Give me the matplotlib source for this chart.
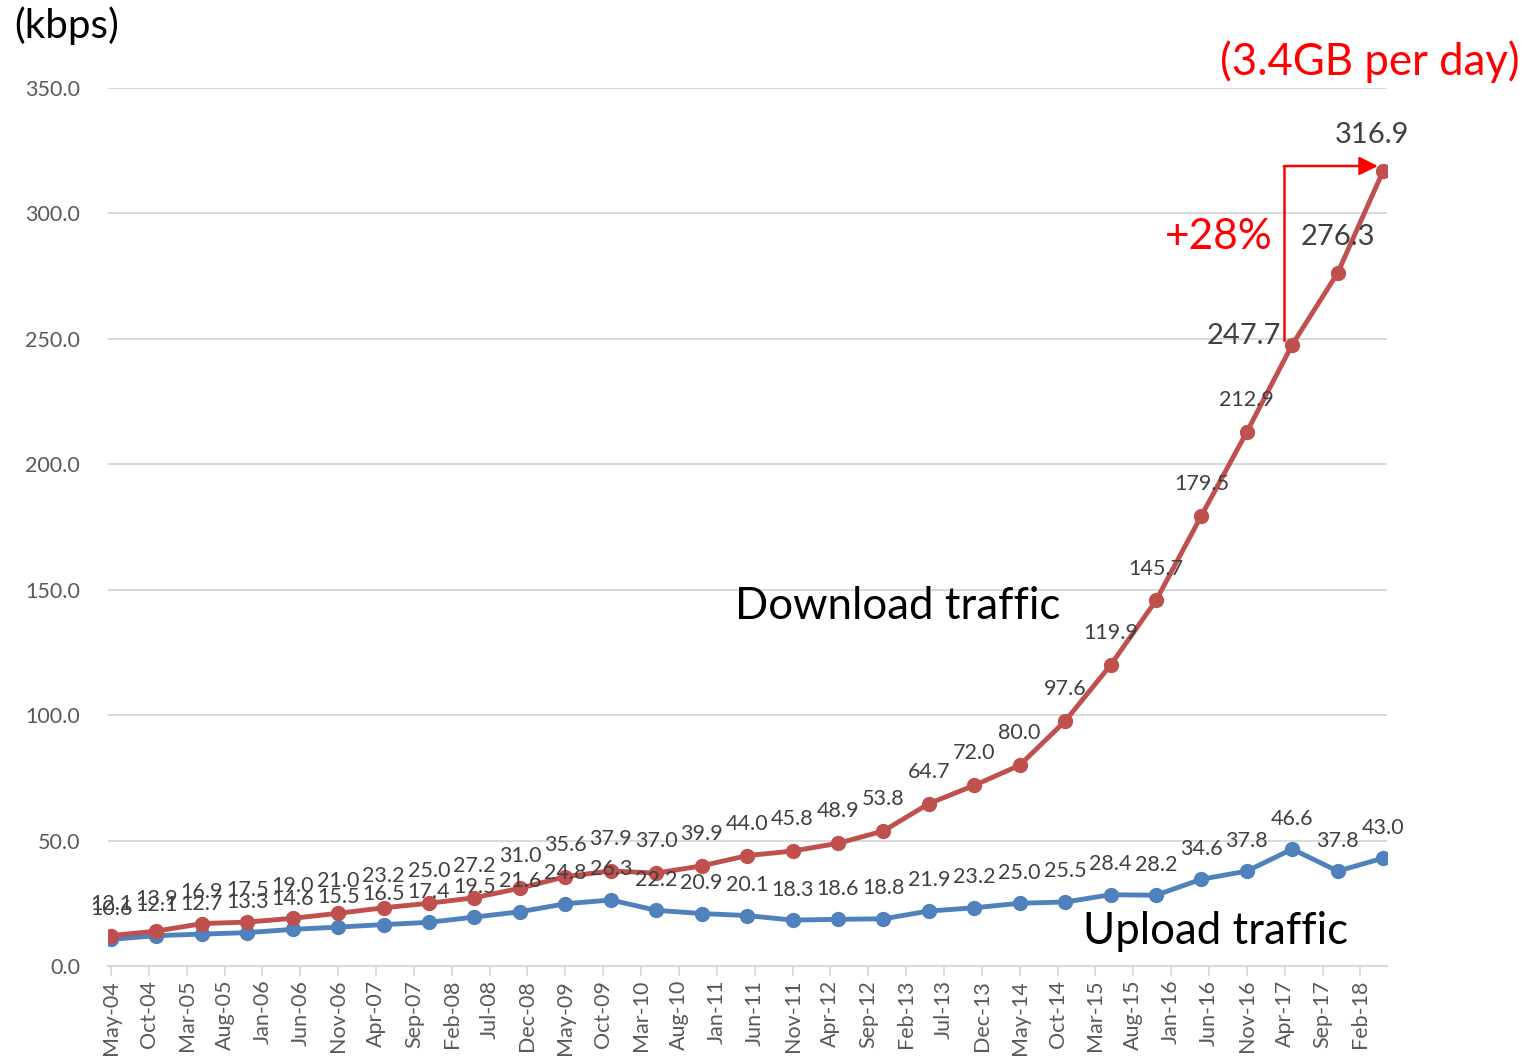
import matplotlib
matplotlib.use('Agg')
import matplotlib.pyplot as plt
from matplotlib.ticker import FormatStrFormatter

plt.rcParams['font.family'] = ['Lato', 'DejaVu Sans']

MONTHS = ['Jan', 'Feb', 'Mar', 'Apr', 'May', 'Jun', 'Jul', 'Aug', 'Sep', 'Oct', 'Nov', 'Dec']

periods = ['May-04', 'Nov-04', 'May-05', 'Nov-05', 'May-06', 'Nov-06', 'May-07', 'Nov-07',
           'May-08', 'Nov-08', 'May-09', 'Nov-09', 'May-10', 'Nov-10', 'May-11', 'Nov-11',
           'May-12', 'Nov-12', 'May-13', 'Nov-13', 'May-14', 'Nov-14', 'May-15', 'Nov-15',
           'May-16', 'Nov-16', 'May-17', 'Nov-17', 'May-18']
download = [12.1, 13.9, 16.9, 17.5, 19.0, 21.0, 23.2, 25.0, 27.2, 31.0, 35.6, 37.9, 37.0, 39.9,
            44.0, 45.8, 48.9, 53.8, 64.7, 72.0, 80.0, 97.6, 119.9, 145.7, 179.5, 212.9, 247.7,
            276.3, 316.9]
upload = [10.6, 12.1, 12.7, 13.3, 14.6, 15.5, 16.5, 17.4, 19.5, 21.6, 24.8, 26.3, 22.2, 20.9,
          20.1, 18.3, 18.6, 18.8, 21.9, 23.2, 25.0, 25.5, 28.4, 28.2, 34.6, 37.8, 46.6, 37.8, 43.0]
tick_labels = ['May-04', 'Oct-04', 'Mar-05', 'Aug-05', 'Jan-06', 'Jun-06', 'Nov-06', 'Apr-07',
               'Sep-07', 'Feb-08', 'Jul-08', 'Dec-08', 'May-09', 'Oct-09', 'Mar-10', 'Aug-10',
               'Jan-11', 'Jun-11', 'Nov-11', 'Apr-12', 'Sep-12', 'Feb-13', 'Jul-13', 'Dec-13',
               'May-14', 'Oct-14', 'Mar-15', 'Aug-15', 'Jan-16', 'Jun-16', 'Nov-16', 'Apr-17',
               'Sep-17', 'Feb-18']
y_ticks = [0, 50, 100, 150, 200, 250, 300, 350]


def month_index(lbl):
    mon, yr = lbl.split('-')
    return (int(yr) - 4) * 12 + MONTHS.index(mon) - 4


x = [month_index(p) for p in periods]
xt = [month_index(t) for t in tick_labels]

RED = '#C0504D'
BLUE = '#4F81BD'
LBL = '#404040'
GRID = '#D9D9D9'
LFS = 15.5   # data label font size
BFS = 21     # big data label font size

fig = plt.figure(figsize=(15.32, 10.6), dpi=100)
ax = fig.add_axes([0.0705, 0.0887, 0.8348, 0.8283])

ax.plot(x, upload, color=BLUE, lw=3.5, marker='o', markersize=10, zorder=3,
        solid_capstyle='round')
ax.plot(x, download, color=RED, lw=3.5, marker='o', markersize=10, zorder=4,
        solid_capstyle='round')

ax.set_xlim(-0.4, 168.5)
ax.set_ylim(0, 350)
ax.set_yticks(y_ticks)
ax.yaxis.set_major_formatter(FormatStrFormatter('%.1f'))
ax.set_xticks(xt)
ax.set_xticklabels(tick_labels, rotation=90)

for s in ['top', 'right', 'left']:
    ax.spines[s].set_visible(False)
ax.spines['bottom'].set_color(GRID)
ax.spines['bottom'].set_linewidth(1.5)
ax.grid(axis='y', color=GRID, lw=1.4)
ax.set_axisbelow(True)
ax.tick_params(axis='x', length=7, width=1.3, color=GRID, labelcolor='#595959',
               labelsize=15.5, pad=3)
ax.tick_params(axis='y', length=0, labelcolor='#595959', labelsize=15.5, pad=20)

# data labels
for i, (xi, v) in enumerate(zip(x, upload)):
    ax.annotate(f'{v:.1f}', (xi, v), xytext=(0, 22), textcoords='offset points',
                ha='center', va='center', fontsize=LFS, color=LBL, zorder=6)

n = len(download)
for i, (xi, v) in enumerate(zip(x, download)):
    if i == n - 3:
        ax.annotate(f'{v:.1f}', (xi, v), xytext=(-8, 6), textcoords='offset points',
                    ha='right', va='center', fontsize=BFS, color=LBL, zorder=6)
    elif i == n - 2:
        ax.annotate(f'{v:.1f}', (xi, v), xytext=(0, 26), textcoords='offset points',
                    ha='center', va='center', fontsize=BFS, color=LBL, zorder=6)
    elif i == n - 1:
        ax.annotate(f'{v:.1f}', (xi, v), xytext=(-8, 26), textcoords='offset points',
                    ha='center', va='center', fontsize=BFS, color=LBL, zorder=6)
    else:
        ax.annotate(f'{v:.1f}', (xi, v), xytext=(0, 23), textcoords='offset points',
                    ha='center', va='center', fontsize=LFS, color=LBL, zorder=6)

# growth arrow
ax.plot([154.9, 154.9], [249.5, 318.9], color='#FF0000', lw=1.8, zorder=5)
ax.annotate('', xy=(167.3, 318.9), xytext=(154.9, 318.9),
            arrowprops=dict(arrowstyle='-|>', color='#FF0000', lw=1.8,
                            mutation_scale=28, shrinkA=0, shrinkB=0), zorder=5)

fig.text(0.009, 0.976, '(kbps)', fontsize=29, color='black', ha='left', va='center')
fig.text(0.992, 0.9415, '(3.4GB per day)', fontsize=31.5, color='#FF0000', ha='right', va='center')
fig.text(0.831, 0.776, '+28%', fontsize=30.5, color='#FF0000', ha='right', va='center')
fig.text(0.4798, 0.428, 'Download traffic', fontsize=31.5, color='black', ha='left', va='center')
fig.text(0.7069, 0.1208, 'Upload traffic', fontsize=31.5, color='black', ha='left', va='center')

fig.savefig('out.png', dpi=100)
